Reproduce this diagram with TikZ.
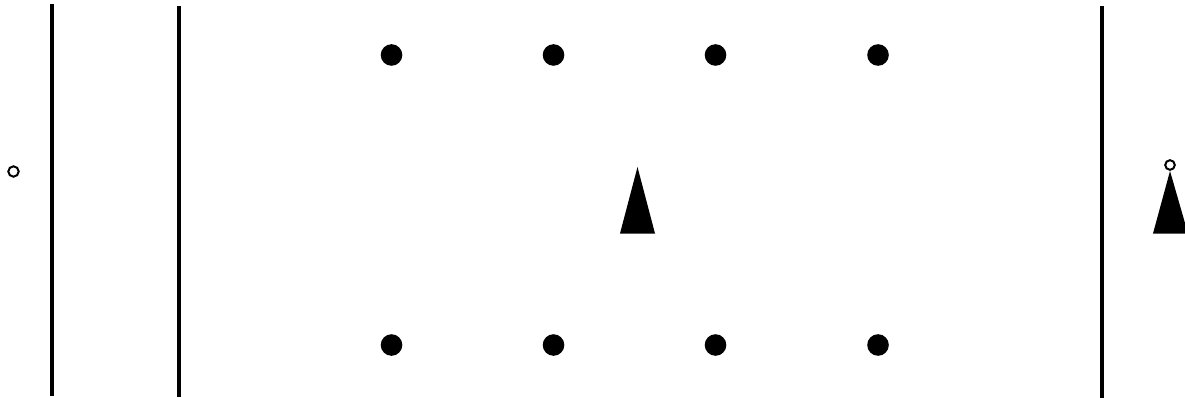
\documentclass[tikz,border=0pt]{standalone}
\begin{document}
\begin{tikzpicture}[x=1pt,y=-1pt,
  bar/.style={line width=4pt,black},
  dot/.style={fill=black},
  ring/.style={draw=black,line width=2pt,fill=white},
  cone/.style={fill=black}]
\useasboundingbox (0,0) rectangle (1185,398);
% vertical bars
\draw[bar] (52,4) -- (52,396);
\draw[bar] (179,6) -- (179,397);
\draw[bar] (1101.5,6) -- (1101.5,398);
% left ring
\draw[ring] (13.5,171.5) circle (5.2);
% dots
\foreach \x in {391.5,553.5,715.5,878} {
  \fill[dot] (\x,55) circle (10.8);
  \fill[dot] (\x,345) circle (10.8);
}
% middle triangle
\fill[cone] (637.5,167) -- (655,233.5) -- (620,233.5) -- cycle;
% right triangle with ring
\fill[cone] (1170,171) -- (1188,233.5) -- (1153,233.5) -- cycle;
\draw[ring] (1170,165) circle (4.8);
\end{tikzpicture}
\end{document}
